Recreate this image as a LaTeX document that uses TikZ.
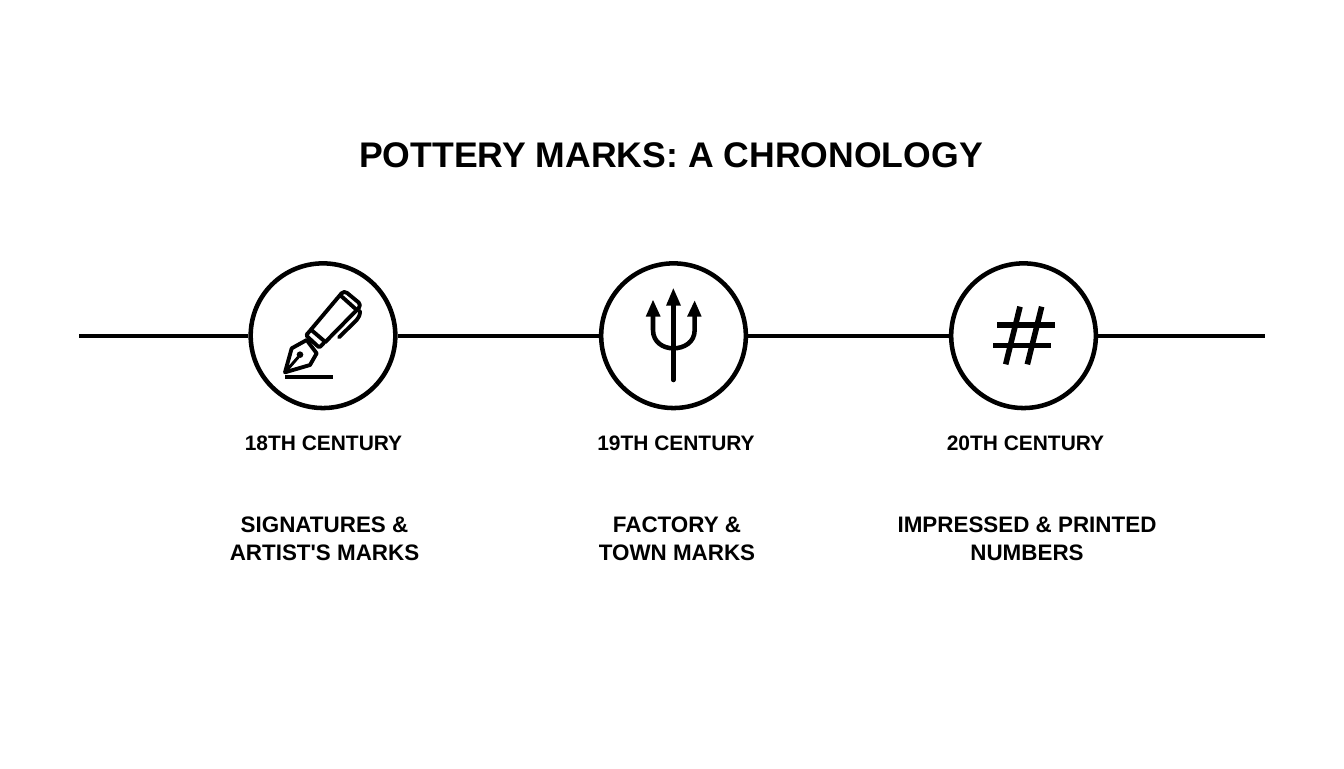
\documentclass[tikz,border=0pt]{standalone}
\usepackage{fontspec}
\setmainfont[Ligatures=TeXOff]{Liberation Sans}
\tikzset{
  mark circle/.style={draw,circle,line width=3.4pt,minimum size=108.5pt,inner sep=0pt,fill=white},
  era label/.style={font=\bfseries\fontsize{15.7}{18}\selectfont,align=center},
  kind label/.style={font=\bfseries\fontsize{16.8}{21}\selectfont,align=center},
  icon line/.style={line width=2.9pt},
}
\begin{document}
\begin{tikzpicture}[x=0.75pt,y=-0.75pt]
  \useasboundingbox (0,0) rectangle (1344,768);
  \node[font=\bfseries\fontsize{26.7}{32}\selectfont] (title) at (671,155) {POTTERY MARKS: A CHRONOLOGY};
  \coordinate (start) at (79,335.7);
  \coordinate (end) at (1265,335.7);
  \node[mark circle] (pen) at (323,335.7) {};
  \node[mark circle] (trident) at (673.5,335.7) {};
  \node[mark circle] (hash) at (1023.5,335.7) {};
  \draw[line width=3pt] (start) -- (pen) -- (trident) -- (hash) -- (end);
  \node[era label] (era1) at (323.5,443) {18TH CENTURY};
  \node[era label] (era2) at (676,443) {19TH CENTURY};
  \node[era label] (era3) at (1025.5,443) {20TH CENTURY};
  \node[kind label] (kind1) at (324.5,539) {SIGNATURES \&\\ARTIST'S MARKS};
  \node[kind label] (kind2) at (677,539) {FACTORY \&\\TOWN MARKS};
  \node[kind label] (kind3) at (1027,539) {IMPRESSED \& PRINTED\\NUMBERS};
  % pen
  \begin{scope}[shift={(275,285)},x=0.25pt,y=-0.25pt,icon line,line join=round]
    \draw[rounded corners=3pt] (106,136) -- (207,16) -- (260,60) -- (150,172);
    \draw[rounded corners=1pt] (108,134) -- (150,170) -- (133,188) -- (93,151) -- cycle;
    \draw (195,30) -- (242,72);
    \draw[line cap=round] (192,157) -- (245,105) .. controls (252,97) and (255,90) .. (255,78);
    \draw (30,262) -- (50,190) -- (95,165) -- (125,205) -- (105,240) -- cycle;
    \draw[line width=2.2pt] (30,262) -- (70,216);
    \fill (75,209) circle (10);
    \draw[line width=2.8pt] (30,276) -- (174,276);
  \end{scope}
  % trident
  \begin{scope}[shift={(590,255)},x=0.25pt,y=-0.25pt]
    \draw[line width=3.4pt,line cap=round] (250,145) -- (250,375);
    \draw[line width=3.4pt] (189,180) -- (189,225) .. controls (189,262) and (220,280) .. (250,280) .. controls (282,280) and (314,262) .. (314,225) -- (314,180);
    \fill (250,100) -- (273,152) -- (228,152) -- cycle;
    \fill (189,135) -- (212,185) -- (167,185) -- cycle;
    \fill (314,137) -- (335,185) -- (291,185) -- cycle;
  \end{scope}
  % hash
  \begin{scope}[shift={(940,255)},x=0.25pt,y=-0.25pt,line width=4.2pt]
    \draw (172,210) -- (345,210);
    \draw (160,271) -- (332,271);
    \draw (240,155) -- (197,328);
    \draw (305,155) -- (262,328);
  \end{scope}
\end{tikzpicture}
\end{document}
